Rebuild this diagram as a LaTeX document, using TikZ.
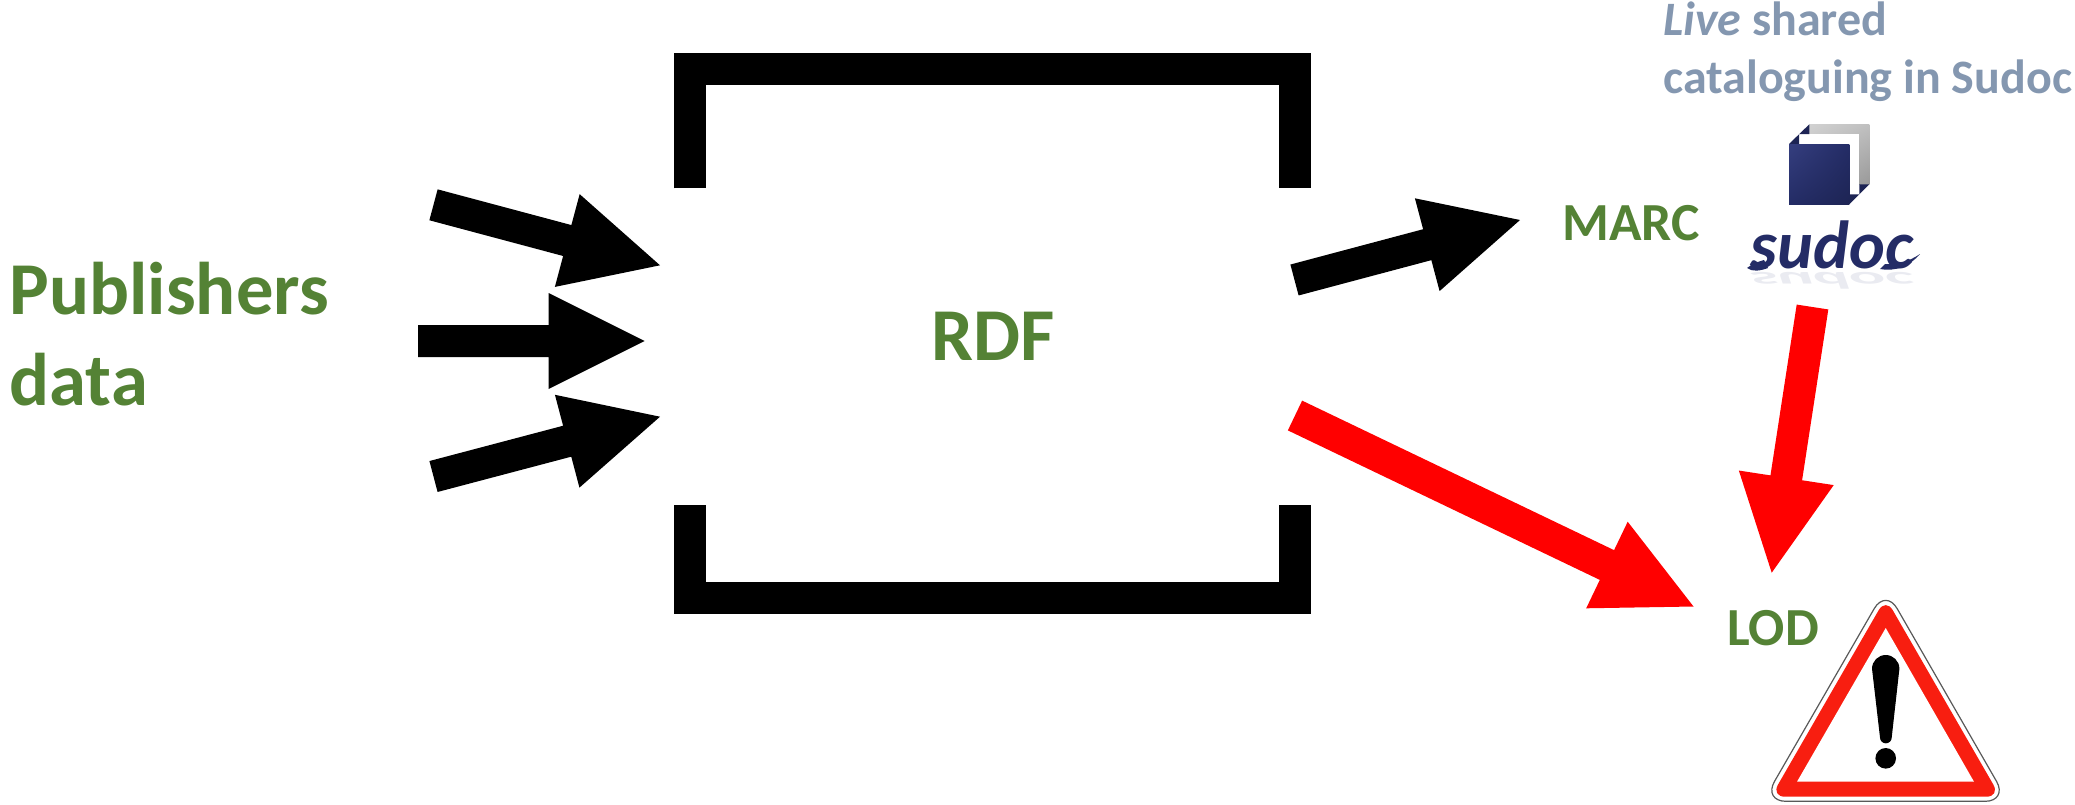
\documentclass[tikz,border=0pt]{standalone}
\usepackage{fontspec}
\setmainfont{Carlito}
\usetikzlibrary{calc,shadings}
\definecolor{labelgreen}{HTML}{548235}
\definecolor{labelblue}{HTML}{8497B0}
\definecolor{signred}{HTML}{F81E10}
\definecolor{logoblue}{HTML}{2A3478}
\tikzset{
  biglabel/.style={anchor=base west,inner sep=0pt,text=labelgreen,font=\fontsize{74.6}{91}\selectfont\bfseries},
  midlabel/.style={anchor=base west,inner sep=0pt,text=labelgreen,font=\fontsize{53.6}{60}\selectfont\bfseries},
  bluelabel/.style={anchor=base west,inner sep=0pt,text=labelblue,font=\fontsize{48}{58}\selectfont\bfseries},
  bracketline/.style={line width=32pt,line cap=butt,miter limit=10},
  logotext/.style={anchor=base,inner sep=0pt,font=\fontsize{68}{68}\selectfont\bfseries\itshape,xscale=1.0},
}
% style, tail, tip, shaft half, head half, head length
\newcommand\blockarrow[6]{%
  \coordinate (n) at ($(#3)!#6pt!(#2)$);
  \fill[#1] ($(#2)!#4pt!90:(#3)$) -- ($(n)!#4pt!90:(#3)$) -- ($(n)!#5pt!90:(#3)$) -- (#3)
     -- ($(n)!#5pt!-90:(#3)$) -- ($(n)!#4pt!-90:(#3)$) -- ($(#2)!#4pt!-90:(#3)$) -- cycle;
}
\begin{document}
\begin{tikzpicture}[x=1pt,y=-1pt]
\useasboundingbox (0,0) rectangle (2075,804);
% bracket
\draw[bracketline] (690.4,188.3) -- (690.4,68.7) -- (1295.3,68.7) -- (1295.3,188.3);
\draw[bracketline] (690.4,505) -- (690.4,597.9) -- (1295.3,597.9) -- (1295.3,505);
% labels
\node[biglabel] (pub) at (9.5,314) {Publishers};
\node[biglabel] (dat) at (9.5,405) {data};
\node[biglabel] (rdf) at (931,360) {RDF};
\node[midlabel] (marc) at (1562,240.7) {MARC};
\node[midlabel] (lod) at (1727,645) {LOD};
\node[bluelabel] (live) at (1663,35) {\textit{Live} shared};
\node[bluelabel] (cat) at (1663,93.3) {cataloguing in Sudoc};
% block arrows
\coordinate (a1) at (433.5,204.8); \coordinate (t1) at (660,265.3);
\coordinate (a2) at (418,341);     \coordinate (t2) at (644.6,341);
\coordinate (a3) at (433.5,476.5); \coordinate (t3) at (660,416.7);
\coordinate (a4) at (1294.5,280);  \coordinate (t4) at (1520,220);
\coordinate (a5) at (1295,415.5);  \coordinate (t5) at (1693.5,606.5);
\coordinate (a6) at (1812.5,307);  \coordinate (t6) at (1771.7,572.7);
\blockarrow{black}{a1}{t1}{16}{48}{96}
\blockarrow{black}{a2}{t2}{16}{48}{96}
\blockarrow{black}{a3}{t3}{16}{48}{96}
\blockarrow{black}{a4}{t4}{16}{48}{96}
\blockarrow{red}{a5}{t5}{16.5}{48}{96}
\blockarrow{red}{a6}{t6}{16}{48}{96}
% sudoc logo
\shade[upper left=black!18,upper right=black!25,lower left=black!28,lower right=black!40] (1809.3,124.3) rectangle (1869.3,184.3);
\fill[white] (1799,134) rectangle (1859.3,194.3);
\fill[logoblue!70!black] (1789,144) -- (1809.3,124.3) -- (1809.3,134) -- (1799,134) -- (1799,144) -- cycle;
\fill[logoblue!70!black] (1859.3,184.3) -- (1869.3,184.3) -- (1849.3,204.3) -- (1849.3,194.3) -- (1859.3,194.3) -- cycle;
\shade[upper left=logoblue!95!white,upper right=logoblue!85!black,lower left=logoblue!85!black,lower right=logoblue!70!black] (1789,144) rectangle (1849.3,204.3);
\node[logotext,text=logoblue!10,yscale=-0.35] (sudocr) at (1832,272) {sudoc};
\node[logotext,text=logoblue!85!black] (sudoc) at (1832,268) {sudoc};
\fill[logoblue!85!black] (1764,260) .. controls (1757,262) and (1752,264) .. (1747,268) .. controls (1752,272) and (1760,271) .. (1768,268) -- cycle;
\fill[logoblue!85!black] (1885,264) .. controls (1897,265) and (1908,262) .. (1920,254) .. controls (1910,266) and (1895,272) .. (1880,269) -- cycle;
% warning sign
\draw[black!65,line width=1.2pt,fill=white,rounded corners=23pt] (1885.7,588.7) -- (2008,801.3) -- (1763,801.3) -- cycle;
\fill[signred,rounded corners=14pt] (1885.7,598) -- (2000.3,796.7) -- (1771,796.7) -- cycle;
\fill[white] (1885.7,628) -- (1974,781.7) -- (1797,781.7) -- cycle;
\fill[black] (1872,668.7) arc[start angle=180,end angle=0,radius=13.7pt] -- (1891.7,737.5) arc[start angle=0,end angle=-180,radius=5.85pt] -- cycle;
\fill[black] (1885.7,758.3) circle[radius=10.3pt];
\end{tikzpicture}
\end{document}
